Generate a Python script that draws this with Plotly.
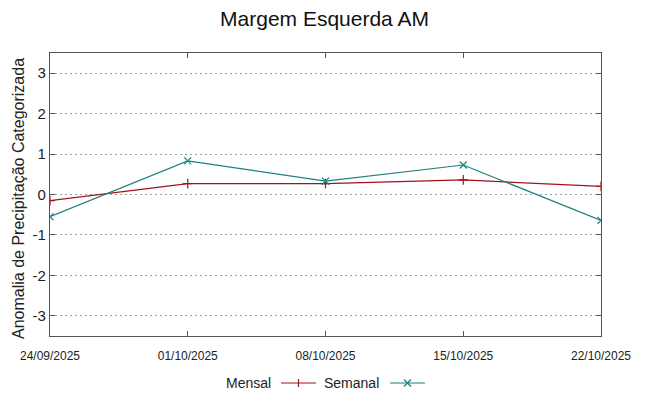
import plotly.graph_objects as go

dates = ["2025-09-24", "2025-10-01", "2025-10-08", "2025-10-15", "2025-10-22"]
tick_labels = ["24/09/2025", "01/10/2025", "08/10/2025", "15/10/2025", "22/10/2025"]
mensal = [-0.15, 0.27, 0.27, 0.36, 0.20]
semanal = [-0.55, 0.83, 0.33, 0.73, -0.64]
y_ticks = [-3, -2, -1, 0, 1, 2, 3]
y_tick_text = ["-3", "-2", "-1", "0", "1", "2", "3"]
series_names = ["Mensal", "Semanal"]

red = "#a0141c"
teal = "#1f8080"
FONT = "Liberation Sans, Arial, sans-serif"

# plot area in pixels: x 50..601, y 53..336
L, R, T, B = 50, 48, 53, 60
W, H = 649, 396
pw, ph = W - L - R, H - T - B

def px_x(p):
    return (p - L) / pw

def px_y(p):
    return (H - B - p) / ph

fig = go.Figure()
fig.add_trace(go.Scatter(x=dates, y=mensal, name=series_names[0], mode="lines+markers",
                         line=dict(color=red, width=1.2),
                         marker=dict(symbol="cross-thin-open", size=7, line=dict(color=red, width=1.2))))
fig.add_trace(go.Scatter(x=dates, y=semanal, name=series_names[1], mode="lines+markers",
                         line=dict(color=teal, width=1.2),
                         marker=dict(symbol="x-thin-open", size=7, line=dict(color=teal, width=1.2))))

annotations = [
    dict(text="Anomalia de Precipitação Categorizada", xref="paper", yref="paper",
         x=px_x(18), y=px_y(199), textangle=-90, showarrow=False,
         font=dict(size=16, color="#222", family=FONT), xanchor="center", yanchor="middle"),
]
shapes = []
# manual gnuplot-style legend: text then sample
legend_items = [
    (series_names[0], 273, 281, 316, red, "cross"),
    (series_names[1], 381, 390, 425, teal, "x"),
]
ly = 383
for name, text_right, lx0, lx1, col, sym in legend_items:
    annotations.append(dict(text=name, xref="paper", yref="paper", x=px_x(text_right), y=px_y(ly),
                            xanchor="right", yanchor="middle", showarrow=False,
                            font=dict(size=14, color="#222", family=FONT)))
    shapes.append(dict(type="line", xref="paper", yref="paper", x0=px_x(lx0), x1=px_x(lx1),
                       y0=px_y(ly), y1=px_y(ly), line=dict(color=col, width=1.2)))
    cx, cy = (lx0 + lx1) / 2, ly
    if sym == "cross":
        shapes.append(dict(type="line", xref="paper", yref="paper", x0=px_x(cx), x1=px_x(cx),
                           y0=px_y(cy - 4), y1=px_y(cy + 4), line=dict(color=col, width=1.2)))
    else:
        shapes.append(dict(type="line", xref="paper", yref="paper", x0=px_x(cx - 3.5), x1=px_x(cx + 3.5),
                           y0=px_y(cy - 3.5), y1=px_y(cy + 3.5), line=dict(color=col, width=1.2)))
        shapes.append(dict(type="line", xref="paper", yref="paper", x0=px_x(cx - 3.5), x1=px_x(cx + 3.5),
                           y0=px_y(cy + 3.5), y1=px_y(cy - 3.5), line=dict(color=col, width=1.2)))

fig.update_layout(
    width=W, height=H,
    margin=dict(l=L, r=R, t=T, b=B, autoexpand=False),
    paper_bgcolor="white", plot_bgcolor="white",
    font=dict(family=FONT, color="#222"),
    title=dict(text="Margem Esquerda AM", x=0.5, xanchor="center", y=1 - 19 / H, yanchor="middle",
               font=dict(size=21, color="#111", family=FONT)),
    showlegend=False,
    annotations=annotations,
    shapes=shapes,
)
fig.update_xaxes(type="date", range=[dates[0], dates[-1]], tickvals=dates, ticktext=tick_labels,
                 showgrid=False, showline=True, linecolor="#555", linewidth=1.2, mirror="allticks",
                 ticks="inside", ticklen=5, tickcolor="#555", tickfont=dict(size=12), zeroline=False,
                 automargin=False, ticklabelstandoff=8)
fig.update_yaxes(range=[-3.5, 3.5], tickvals=y_ticks, ticktext=y_tick_text, showgrid=True,
                 gridcolor="#a0a0a0", griddash="2px,3px",
                 gridwidth=1, showline=True, linecolor="#555", linewidth=1.2, mirror="allticks",
                 ticks="inside", ticklen=5, tickcolor="#555", tickfont=dict(size=15), zeroline=False,
                 automargin=False)

fig.write_html("out.html", config={"displayModeBar": False},
               post_script="document.body.style.margin='0';")
